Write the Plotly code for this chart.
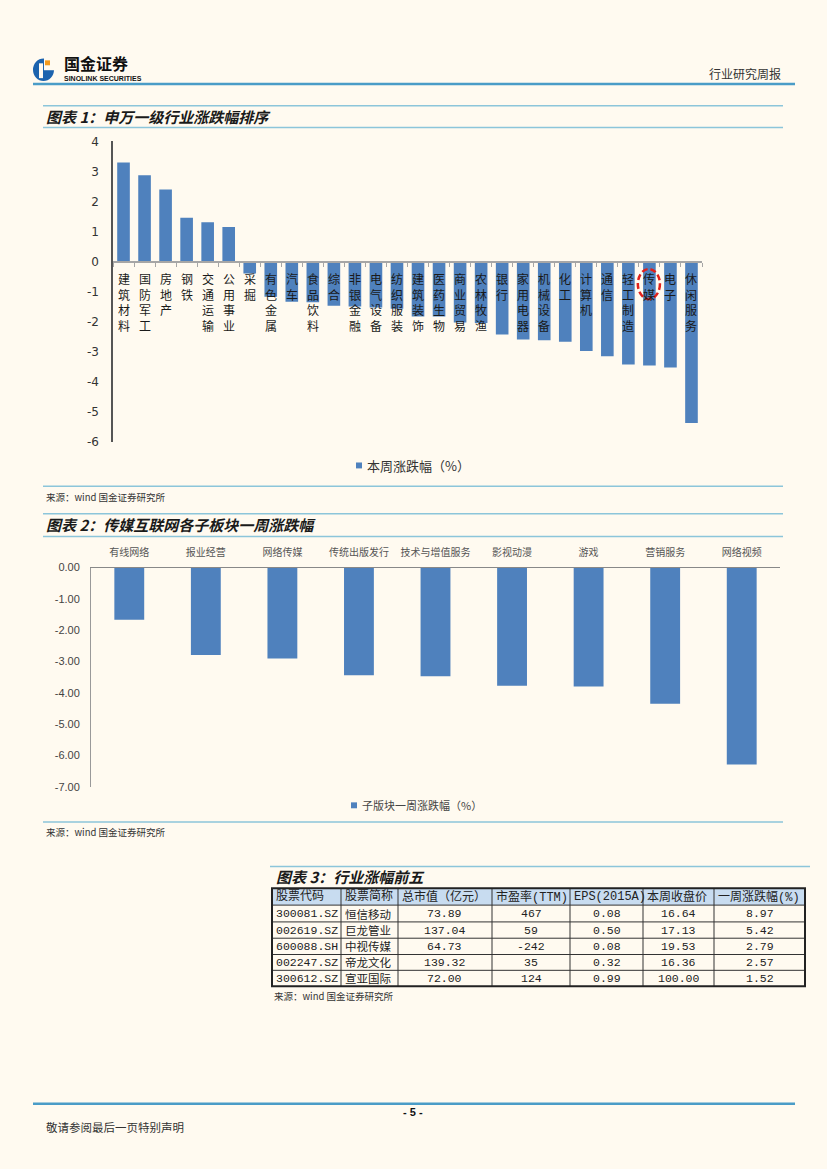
import plotly.graph_objects as go

W, H = 827, 1169
def X(px): return px / W
def Y(py): return 1 - py / H

# ---------------- data ----------------
ind_names = ["建筑材料", "国防军工", "房地产", "钢铁", "交通运输", "公用事业", "采掘", "有色金属",
             "汽车", "食品饮料", "综合", "非银金融", "电气设备", "纺织服装", "建筑装饰", "医药生物",
             "商业贸易", "农林牧渔", "银行", "家用电器", "机械设备", "化工", "计算机", "通信",
             "轻工制造", "传媒", "电子", "休闲服务"]
ind_chg = [3.30, 2.87, 2.40, 1.46, 1.31, 1.15, -0.40, -1.17,
           -1.34, -1.36, -1.47, -1.50, -1.53, -1.57, -1.83, -1.83,
           -2.03, -2.05, -2.43, -2.60, -2.62, -2.67, -2.98, -3.15,
           -3.43, -3.46, -3.53, -5.38]
ind_yticks = [4, 3, 2, 1, 0, -1, -2, -3, -4, -5, -6]
ind_yticktext = ["4", "3", "2", "1", "0", "-1", "-2", "-3", "-4", "-5", "-6"]

sub_names = ["有线网络", "报业经营", "网络传媒", "传统出版发行", "技术与增值服务",
             "影视动漫", "游戏", "营销服务", "网络视频"]
sub_chg = [-1.67, -2.79, -2.90, -3.44, -3.47, -3.77, -3.80, -4.35, -6.29]
sub_yticks = [0, -1, -2, -3, -4, -5, -6, -7]
sub_yticktext = ["0.00", "-1.00", "-2.00", "-3.00", "-4.00", "-5.00", "-6.00", "-7.00"]

tbl_header = ["股票代码", "股票简称", "总市值（亿元）", "市盈率(TTM)", "EPS(2015A)", "本周收盘价", "一周涨跌幅(%)"]
tbl_code = ["300081.SZ", "002619.SZ", "600088.SH", "002247.SZ", "300612.SZ"]
tbl_name = ["恒信移动", "巨龙管业", "中视传媒", "帝龙文化", "宣亚国际"]
tbl_mcap = ["73.89", "137.04", "64.73", "139.32", "72.00"]
tbl_pe = ["467", "59", "-242", "35", "124"]
tbl_eps = ["0.08", "0.50", "0.08", "0.32", "0.99"]
tbl_close = ["16.64", "17.13", "19.53", "16.36", "100.00"]
tbl_wchg = ["8.97", "5.42", "2.79", "2.57", "1.52"]

BAR = "#4f81bd"
BG = "#fffaf0"
CJK = "Noto Sans CJK SC"
MONO = "Liberation Mono, " + CJK
LINEBLUE = "#8cc5da"

fig = go.Figure()

# ---------------- chart 1 ----------------
fig.add_trace(go.Bar(x=ind_names, y=ind_chg, width=0.6, marker=dict(color=BAR, line=dict(width=0)),
                     xaxis="x", yaxis="y", showlegend=False, hoverinfo="skip"))
# ---------------- chart 2 ----------------
fig.add_trace(go.Bar(x=sub_names, y=sub_chg, width=0.39, marker=dict(color=BAR, line=dict(width=0)),
                     xaxis="x2", yaxis="y2", showlegend=False, hoverinfo="skip"))

ann = []
shapes = []

# vertical category labels chart 1
for i, name in enumerate(ind_names):
    ann.append(dict(x=i, y=0, xref="x", yref="y", text="<br>".join(name), showarrow=False,
                    yanchor="top", xanchor="center", yshift=-6, align="center",
                    font=dict(family=CJK, size=12, color="#1a1a1a")))

# red dashed ellipse around 传媒
k = ind_names.index("传媒")
shapes.append(dict(type="circle", xref="x", yref="y", x0=k - 0.55, x1=k + 0.5,
                   y0=-1.25, y1=-0.25, line=dict(color="#e0201b", width=2.5, dash="6px,3px")))

# legends
def legend(px, py, text, size, color):
    shapes.append(dict(type="rect", xref="paper", yref="paper", x0=X(px), x1=X(px + 6),
                       y0=Y(py + 3), y1=Y(py - 3), fillcolor=BAR, line=dict(width=0)))
    ann.append(dict(x=X(px + 9), y=Y(py), xref="paper", yref="paper", text=text, showarrow=False,
                    xanchor="left", yanchor="middle", font=dict(family=CJK, size=size, color=color)))

legend(356, 464, "本周涨跌幅（%）", 13, "#333333")
legend(351, 808, "子版块一周涨跌幅（%）", 11, "#444444")

# ---------------- page furniture ----------------
def hline(py, x0, x1, color, width):
    shapes.append(dict(type="line", xref="paper", yref="paper", x0=X(x0), x1=X(x1),
                       y0=Y(py), y1=Y(py), line=dict(color=color, width=width)))

def text(px, py, s, size, color="#222222", anchor="left", weight="normal", style="normal", family=CJK):
    ann.append(dict(x=X(px), y=Y(py), xref="paper", yref="paper", text=s, showarrow=False,
                    xanchor=anchor, yanchor="middle",
                    font=dict(family=family, size=size, color=color, weight=weight, style=style)))

hline(78, 33, 795, "#4a9cc7", 2.5)
hline(100, 43, 783, LINEBLUE, 1.5)
hline(122, 43, 783, LINEBLUE, 1.5)
hline(485, 43, 783, LINEBLUE, 1.5)
hline(513, 43, 783, LINEBLUE, 1.5)
hline(536, 43, 783, LINEBLUE, 1.5)
hline(825, 43, 783, LINEBLUE, 1.5)
hline(870, 270, 810, LINEBLUE, 1.5)
hline(1110, 33, 795, "#4a9cc7", 2.5)

# logo
shapes.append(dict(type="circle", xref="paper", yref="paper", x0=X(33), x1=X(54), y0=Y(75), y1=Y(52),
                   fillcolor="#1c63ae", line=dict(width=0)))
shapes.append(dict(type="rect", xref="paper", yref="paper", x0=X(44), x1=X(55), y0=Y(64), y1=Y(50),
                   fillcolor=BG, line=dict(width=0)))
shapes.append(dict(type="rect", xref="paper", yref="paper", x0=X(39), x1=X(43), y0=Y(72), y1=Y(57),
                   fillcolor=BG, line=dict(width=0)))
shapes.append(dict(type="rect", xref="paper", yref="paper", x0=X(45), x1=X(50), y0=Y(59), y1=Y(54),
                   fillcolor="#f29a1e", line=dict(width=0)))
text(62, 57, "国金证券", 16, "#111111", weight="bold")
text(62, 72, "SINOLINK SECURITIES", 7, "#111111", weight="bold", family="Liberation Sans")
text(783, 67, "行业研究周报", 12, "#333333", anchor="right")

text(44, 111, "图表 1：申万一级行业涨跌幅排序", 15, "#1a1a1a", weight="bold", style="italic")
text(44, 496, "来源：wind 国金证券研究所", 9.5, "#333333")
text(44, 524, "图表 2：传媒互联网各子板块一周涨跌幅", 15, "#1a1a1a", weight="bold", style="italic")
text(44, 835, "来源：wind 国金证券研究所", 9.5, "#333333")
text(274, 880, "图表 3：行业涨幅前五", 15, "#1a1a1a", weight="bold", style="italic")
text(272, 1001, "来源：wind 国金证券研究所", 9.5, "#333333")
text(413, 1118, "- 5 -", 11, "#111111", anchor="center", weight="bold", family="Liberation Sans")
text(44, 1134, "敬请参阅最后一页特别声明", 11.5, "#333333")

# ---------------- table 3 ----------------
col_x = [272, 341, 398, 492, 570, 643, 714, 805]
row_y = [892, 909, 926, 942.5, 959, 975, 991]
shapes.append(dict(type="rect", xref="paper", yref="paper", x0=X(col_x[0]), x1=X(col_x[-1]),
                   y0=Y(row_y[1]), y1=Y(row_y[0]), fillcolor="#c8dcf0", line=dict(width=0)))
for yy in row_y[1:-1]:
    hline(yy, col_x[0], col_x[-1], "#333333", 1)
for xx in col_x[1:-1]:
    shapes.append(dict(type="line", xref="paper", yref="paper", x0=X(xx), x1=X(xx),
                       y0=Y(row_y[0]), y1=Y(row_y[-1]), line=dict(color="#333333", width=1)))
shapes.append(dict(type="rect", xref="paper", yref="paper", x0=X(col_x[0]), x1=X(col_x[-1]),
                   y0=Y(row_y[-1]), y1=Y(row_y[0]), line=dict(color="#222222", width=2)))

for c, h in enumerate(tbl_header):
    text(col_x[c] + 1.5, (row_y[0] + row_y[1]) / 2, h, 12, "#222222", family=MONO)
cols = [tbl_code, tbl_name, tbl_mcap, tbl_pe, tbl_eps, tbl_close, tbl_wchg]
for c, col in enumerate(cols):
    for r, v in enumerate(col):
        cy = (row_y[r + 1] + row_y[r + 2]) / 2
        if c == 0:
            text(col_x[c] + 1.5, cy, v, 11.5, "#222222", family=MONO)
        elif c == 1:
            text(col_x[c] + 2, cy, v, 11.5, "#222222", family=CJK)
        else:
            text((col_x[c] + col_x[c + 1]) / 2, cy, v, 11.5, "#222222", anchor="center", family=MONO)

fig.update_layout(
    width=W, height=H, margin=dict(l=0, r=0, t=0, b=0),
    paper_bgcolor=BG, plot_bgcolor=BG, showlegend=False,
    xaxis=dict(domain=[X(113), X(702)], type="category", range=[-0.5, len(ind_names) - 0.5],
               anchor="free", position=Y(258), showticklabels=False, showline=True,
               linecolor="#a6a6a6", linewidth=1.5, ticks="outside", tickson="boundaries",
               ticklen=4, tickcolor="#a6a6a6", showgrid=False, zeroline=False, fixedrange=True),
    yaxis=dict(domain=[Y(440), Y(136)], range=[-6, 4], tickvals=ind_yticks, ticktext=ind_yticktext,
               anchor="x", showline=True, linecolor="#555555", linewidth=1.5, showgrid=False,
               zeroline=False, ticks="", ticklabelstandoff=10,
               tickfont=dict(family="DejaVu Sans", size=12, color="#333333")),
    xaxis2=dict(domain=[X(91), X(780)], type="category", range=[-0.5, len(sub_names) - 0.5],
                anchor="y2", side="top", showline=True, linecolor="#888888", linewidth=1,
                ticks="", showgrid=False, zeroline=False, ticklabelstandoff=7,
                tickfont=dict(family=CJK, size=10, color="#555555")),
    yaxis2=dict(domain=[Y(789.3), Y(567.3)], range=[-7, 0], tickvals=sub_yticks, ticktext=sub_yticktext,
                anchor="x2", showline=True, linecolor="#999999", linewidth=1, showgrid=False,
                zeroline=False, ticks="", ticklabelstandoff=8,
                tickfont=dict(family="Liberation Sans Narrow, Liberation Sans", size=11, color="#444444")),
    annotations=ann, shapes=shapes,
)

fig.write_html("out.html", config={"displayModeBar": False},
               post_script="document.body.style.margin='0';document.body.style.background='#fffaf0';")
